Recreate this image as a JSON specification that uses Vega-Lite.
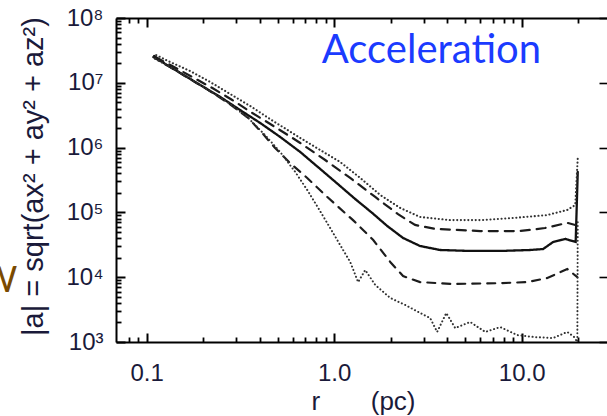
{
  "$schema": "https://vega.github.io/schema/vega-lite/v6.json",
  "width": 491,
  "height": 324,
  "autosize": {"type": "none"},
  "padding": {"left": 116, "top": 18, "right": 0, "bottom": 74},
  "background": "white",
  "config": {
    "view": {"stroke": null},
    "axis": {"grid": false, "labelFlush": false, "labelOverlap": false, "labelBound": false}
  },
  "data": {
    "values": [
      {"s": "solid", "r": 0.1096, "a": 25900000}, {"s": "solid", "r": 0.1256, "a": 19500000}, {"s": "solid", "r": 0.151, "a": 14200000}, {"s": "solid", "r": 0.193, "a": 9250000}, {"s": "solid", "r": 0.247, "a": 6040000}, {"s": "solid", "r": 0.315, "a": 3800000}, {"s": "solid", "r": 0.403, "a": 2400000}, {"s": "solid", "r": 0.515, "a": 1460000}, {"s": "solid", "r": 0.659, "a": 855000}, {"s": "solid", "r": 0.842, "a": 468000}, {"s": "solid", "r": 1.076, "a": 255000}, {"s": "solid", "r": 1.294, "a": 161000}, {"s": "solid", "r": 1.595, "a": 98000}, {"s": "solid", "r": 1.918, "a": 61700}, {"s": "solid", "r": 2.33, "a": 40300}, {"s": "solid", "r": 2.87, "a": 30300}, {"s": "solid", "r": 3.67, "a": 26300}, {"s": "solid", "r": 5.31, "a": 25400}, {"s": "solid", "r": 7.68, "a": 25400}, {"s": "solid", "r": 11.1, "a": 26300}, {"s": "solid", "r": 13.0, "a": 27200}, {"s": "solid", "r": 14.7, "a": 34900}, {"s": "solid", "r": 17.1, "a": 38900}, {"s": "solid", "r": 19.4, "a": 35000}, {"s": "solid", "r": 19.9, "a": 420000},
      {"s": "dash_hi", "r": 0.111, "a": 25000000}, {"s": "dash_hi", "r": 0.1368, "a": 18200000}, {"s": "dash_hi", "r": 0.175, "a": 12300000}, {"s": "dash_hi", "r": 0.224, "a": 8300000}, {"s": "dash_hi", "r": 0.286, "a": 5430000}, {"s": "dash_hi", "r": 0.366, "a": 3420000}, {"s": "dash_hi", "r": 0.484, "a": 2080000}, {"s": "dash_hi", "r": 0.659, "a": 1180000}, {"s": "dash_hi", "r": 0.895, "a": 644000}, {"s": "dash_hi", "r": 1.217, "a": 340000}, {"s": "dash_hi", "r": 1.655, "a": 173000}, {"s": "dash_hi", "r": 2.19, "a": 94000}, {"s": "dash_hi", "r": 2.7, "a": 64000}, {"s": "dash_hi", "r": 3.46, "a": 55500}, {"s": "dash_hi", "r": 6.01, "a": 51600}, {"s": "dash_hi", "r": 9.82, "a": 51600}, {"s": "dash_hi", "r": 13.3, "a": 57400}, {"s": "dash_hi", "r": 17.5, "a": 69000}, {"s": "dash_hi", "r": 19.3, "a": 64000},
      {"s": "dot_hi", "r": 0.1124, "a": 26800000}, {"s": "dot_hi", "r": 0.1334, "a": 20900000}, {"s": "dot_hi", "r": 0.1706, "a": 15200000}, {"s": "dot_hi", "r": 0.218, "a": 10300000}, {"s": "dot_hi", "r": 0.279, "a": 6710000}, {"s": "dot_hi", "r": 0.356, "a": 4390000}, {"s": "dot_hi", "r": 0.473, "a": 2570000}, {"s": "dot_hi", "r": 0.659, "a": 1410000}, {"s": "dot_hi", "r": 0.842, "a": 918000}, {"s": "dot_hi", "r": 1.076, "a": 600000}, {"s": "dot_hi", "r": 1.377, "a": 340000}, {"s": "dot_hi", "r": 1.76, "a": 186000}, {"s": "dot_hi", "r": 2.25, "a": 117000}, {"s": "dot_hi", "r": 2.87, "a": 85000}, {"s": "dot_hi", "r": 4.16, "a": 76000}, {"s": "dot_hi", "r": 6.01, "a": 76000}, {"s": "dot_hi", "r": 9.0, "a": 82000}, {"s": "dot_hi", "r": 13.7, "a": 91000}, {"s": "dot_hi", "r": 17.5, "a": 109000}, {"s": "dot_hi", "r": 19.3, "a": 130000}, {"s": "dot_hi", "r": 19.9, "a": 690000},
      {"s": "dash_lo", "r": 0.1083, "a": 25000000}, {"s": "dash_lo", "r": 0.13, "a": 18200000}, {"s": "dash_lo", "r": 0.1665, "a": 11900000}, {"s": "dash_lo", "r": 0.213, "a": 7740000}, {"s": "dash_lo", "r": 0.272, "a": 4880000}, {"s": "dash_lo", "r": 0.348, "a": 2860000}, {"s": "dash_lo", "r": 0.413, "a": 1680000}, {"s": "dash_lo", "r": 0.484, "a": 986000}, {"s": "dash_lo", "r": 0.582, "a": 578000}, {"s": "dash_lo", "r": 0.718, "a": 340000}, {"s": "dash_lo", "r": 0.918, "a": 173000}, {"s": "dash_lo", "r": 1.26, "a": 76000}, {"s": "dash_lo", "r": 1.615, "a": 37500}, {"s": "dash_lo", "r": 1.99, "a": 17200}, {"s": "dash_lo", "r": 2.33, "a": 10400}, {"s": "dash_lo", "r": 2.87, "a": 8400}, {"s": "dash_lo", "r": 4.31, "a": 7850}, {"s": "dash_lo", "r": 7.68, "a": 8100}, {"s": "dash_lo", "r": 10.7, "a": 8400}, {"s": "dash_lo", "r": 13.7, "a": 9700}, {"s": "dash_lo", "r": 17.5, "a": 13400}, {"s": "dash_lo", "r": 19.8, "a": 10000},
      {"s": "dot_lo", "r": 0.111, "a": 23300000}, {"s": "dot_lo", "r": 0.1334, "a": 17500000}, {"s": "dot_lo", "r": 0.1706, "a": 11500000}, {"s": "dot_lo", "r": 0.218, "a": 7460000}, {"s": "dot_lo", "r": 0.279, "a": 4710000}, {"s": "dot_lo", "r": 0.348, "a": 2860000}, {"s": "dot_lo", "r": 0.428, "a": 1560000}, {"s": "dot_lo", "r": 0.515, "a": 855000}, {"s": "dot_lo", "r": 0.62, "a": 420000}, {"s": "dot_lo", "r": 0.718, "a": 222000}, {"s": "dot_lo", "r": 0.822, "a": 117000}, {"s": "dot_lo", "r": 0.952, "a": 57400}, {"s": "dot_lo", "r": 1.076, "a": 31400}, {"s": "dot_lo", "r": 1.217, "a": 17200}, {"s": "dot_lo", "r": 1.342, "a": 8400}, {"s": "dot_lo", "r": 1.463, "a": 12900}, {"s": "dot_lo", "r": 1.655, "a": 7600}, {"s": "dot_lo", "r": 1.99, "a": 4780}, {"s": "dot_lo", "r": 2.39, "a": 3730}, {"s": "dot_lo", "r": 2.81, "a": 2900}, {"s": "dot_lo", "r": 3.25, "a": 2340}, {"s": "dot_lo", "r": 3.54, "a": 1430}, {"s": "dot_lo", "r": 3.96, "a": 2800}, {"s": "dot_lo", "r": 4.42, "a": 1640}, {"s": "dot_lo", "r": 5.31, "a": 2040}, {"s": "dot_lo", "r": 6.39, "a": 1430}, {"s": "dot_lo", "r": 7.68, "a": 1700}, {"s": "dot_lo", "r": 9.46, "a": 1280}, {"s": "dot_lo", "r": 11.8, "a": 1190}, {"s": "dot_lo", "r": 14.7, "a": 1150}, {"s": "dot_lo", "r": 17.5, "a": 1430}, {"s": "dot_lo", "r": 19.0, "a": 1200}, {"s": "dot_lo", "r": 19.8, "a": 1000}, {"s": "dot_lo", "r": 19.9, "a": 71000}
    ]
  },
  "layer": [
    {
      "mark": {"type": "line", "strokeCap": "round", "interpolate": "linear"},
      "encoding": {
        "x": {"field": "r", "type": "quantitative", "scale": {"type": "log", "domain": [0.0686, 28.5]},
          "axis": {"orient": "bottom", "values": [0.1, 1, 10], "format": ".1f", "tickSize": -9, "tickColor": "#000000", "tickWidth": 2, "domainColor": "#000000", "domainWidth": 2,
            "labelFont": "Liberation Sans", "labelColor": "#1a1a3a", "labelFontSize": 24, "labelPadding": 28,
            "title": "r\u00a0\u00a0\u00a0\u00a0\u00a0\u00a0\u00a0(pc)", "titleFont": "Liberation Sans", "titleColor": "#1a1a3a", "titleFontWeight": "normal", "titleFontSize": 26, "titleX": 247, "titleY": 67, "titleBaseline": "alphabetic", "titleAlign": "center", "titleAnchor": null}},
        "y": {"field": "a", "type": "quantitative", "scale": {"type": "log", "domain": [1000, 100000000]},
          "axis": {"orient": "left", "values": [1000, 10000, 100000, 1000000, 10000000, 100000000],
            "labelExpr": "datum.value < 5000 ? '10³' : datum.value < 50000 ? '10⁴' : datum.value < 500000 ? '10⁵' : datum.value < 5000000 ? '10⁶' : datum.value < 50000000 ? '10⁷' : '10⁸'",
            "tickSize": -9, "tickColor": "#000000", "tickWidth": 2, "domainColor": "#000000", "domainWidth": 2,
            "labelFont": "Liberation Sans", "labelColor": "#1a1a3a", "labelFontSize": 24, "labelPadding": 22,
            "title": "|a| = sqrt(ax² + ay² + az²)", "titleFont": "Liberation Sans", "titleColor": "#1a1a3a", "titleFontWeight": "normal", "titleFontSize": 29, "titleX": -74, "titleY": 158, "titleBaseline": "alphabetic", "titleAlign": "center", "titleAngle": 270}},
        "strokeDash": {"field": "s", "type": "nominal", "legend": null,
          "scale": {"domain": ["solid", "dash_hi", "dash_lo", "dot_hi", "dot_lo"], "range": [[1, 0], [9, 7], [8, 7], [0.1, 3.6], [0.1, 3.6]]}},
        "strokeWidth": {"field": "s", "type": "nominal", "legend": null,
          "scale": {"domain": ["solid", "dash_hi", "dash_lo", "dot_hi", "dot_lo"], "range": [2.3, 2, 2, 1.8, 1.8]}},
        "color": {"field": "s", "type": "nominal", "legend": null,
          "scale": {"domain": ["solid", "dash_hi", "dash_lo", "dot_hi", "dot_lo"], "range": ["#111111", "#1c1c1c", "#1c1c1c", "#333333", "#333333"]}}
      }
    },
    {
      "mark": {"type": "point", "opacity": 0},
      "encoding": {
        "x": {"field": "r", "type": "quantitative", "scale": {"type": "log", "domain": [0.0686, 28.5]},
          "axis": {"orient": "top", "values": [0.1, 1, 10], "labels": false, "domain": true, "domainColor": "#000000", "domainWidth": 2, "tickSize": -9, "tickColor": "#000000", "tickWidth": 2, "title": null}},
        "y": {"field": "a", "type": "quantitative", "scale": {"type": "log", "domain": [1000, 100000000]},
          "axis": {"orient": "right", "values": [1000, 10000, 100000, 1000000, 10000000, 100000000], "labels": false, "domain": false, "tickSize": -8, "tickColor": "#000000", "tickWidth": 1.6, "title": null}}
      }
    },
    {
      "mark": {"type": "point", "opacity": 0},
      "encoding": {
        "x": {"field": "r", "type": "quantitative", "scale": {"type": "log", "domain": [0.0686, 28.5]},
          "axis": {"orient": "bottom", "values": [0.08, 0.09, 0.2, 0.3, 0.4, 0.5, 0.6, 0.7, 0.8, 0.9, 2, 3, 4, 5, 6, 7, 8, 9, 20], "labels": false, "domain": false, "tickSize": -5, "tickColor": "#000000", "tickWidth": 1.8, "title": null}},
        "y": {"field": "a", "type": "quantitative", "scale": {"type": "log", "domain": [1000, 100000000]},
          "axis": {"orient": "left", "values": [2000, 3000, 4000, 5000, 6000, 7000, 8000, 9000, 20000, 30000, 40000, 50000, 60000, 70000, 80000, 90000, 200000, 300000, 400000, 500000, 600000, 700000, 800000, 900000, 2000000, 3000000, 4000000, 5000000, 6000000, 7000000, 8000000, 9000000, 20000000, 30000000, 40000000, 50000000, 60000000, 70000000, 80000000, 90000000], "labels": false, "domain": false, "tickSize": -5, "tickColor": "#000000", "tickWidth": 1.8, "title": null}}
      }
    },
    {
      "mark": {"type": "point", "opacity": 0},
      "encoding": {
        "x": {"field": "r", "type": "quantitative", "scale": {"type": "log", "domain": [0.0686, 28.5]},
          "axis": {"orient": "top", "values": [0.08, 0.09, 0.2, 0.3, 0.4, 0.5, 0.6, 0.7, 0.8, 0.9, 2, 3, 4, 5, 6, 7, 8, 9, 20], "labels": false, "domain": false, "tickSize": -5, "tickColor": "#000000", "tickWidth": 1.8, "title": null}},
        "y": {"field": "a", "type": "quantitative", "scale": {"type": "log", "domain": [1000, 100000000]}, "axis": null}
      }
    },
    {
      "data": {"values": [{"r": 3.3, "a": 20200000, "t": "Acceleration"}]},
      "mark": {"type": "text", "font": "Lato", "fontSize": 40, "color": "#1b3bff", "align": "center", "baseline": "alphabetic"},
      "encoding": {
        "x": {"field": "r", "type": "quantitative", "scale": {"type": "log", "domain": [0.0686, 28.5]}, "axis": null},
        "y": {"field": "a", "type": "quantitative", "scale": {"type": "log", "domain": [1000, 100000000]}, "axis": null},
        "text": {"field": "t"}
      }
    },
    {
      "data": {"values": [{"r": 0.0204, "a": 5920, "t": "W"}]},
      "mark": {"type": "text", "font": "Lato", "fontSize": 36, "color": "#7a4a00", "align": "right", "baseline": "alphabetic"},
      "encoding": {
        "x": {"field": "r", "type": "quantitative", "scale": {"type": "log", "domain": [0.0686, 28.5]}, "axis": null},
        "y": {"field": "a", "type": "quantitative", "scale": {"type": "log", "domain": [1000, 100000000]}, "axis": null},
        "text": {"field": "t"}
      }
    }
  ],
  "resolve": {"axis": {"x": "independent", "y": "independent"}}
}
